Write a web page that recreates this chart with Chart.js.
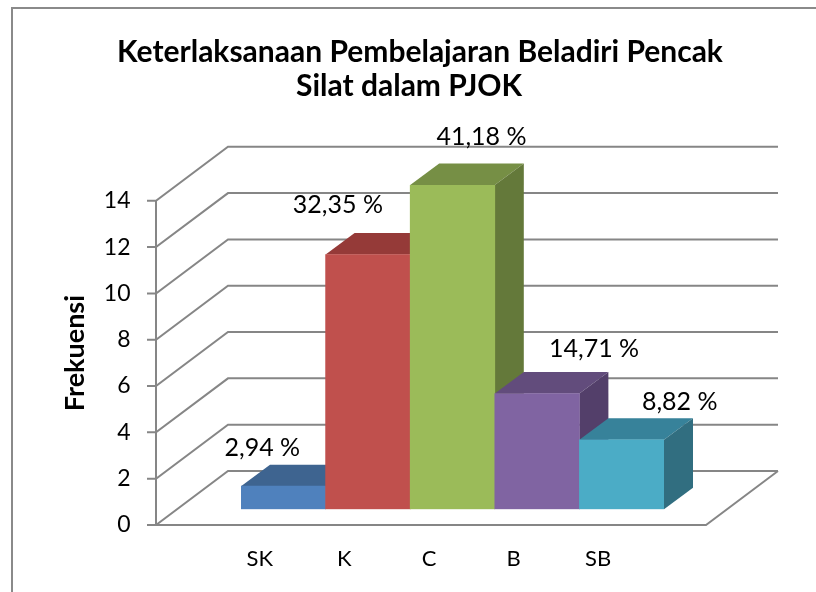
<!DOCTYPE html>
<html>
<head>
<meta charset="utf-8">
<title>Keterlaksanaan Pembelajaran Beladiri Pencak Silat dalam PJOK</title>
<script src="https://cdn.jsdelivr.net/npm/chart.js@4"></script>
<style>
  html, body { margin: 0; padding: 0; background: #fff; }
  canvas { display: block; }
</style>
</head>
<body>
<canvas id="chart" width="816" height="592"></canvas>
<script>
const categories = ['SK', 'K', 'C', 'B', 'SB'];
const frequencies = [1, 11, 14, 5, 3];
const percentLabels = ['2,94 %', '32,35 %', '41,18 %', '14,71 %', '8,82 %'];
const yTicks = [0, 2, 4, 6, 8, 10, 12, 14];

const frontColors = ['#4f81bd', '#c0504d', '#9bbb59', '#8064a2', '#4bacc6'];
const topColors = ['#3e6490', '#953a38', '#768f45', '#624c7c', '#37829a'];
const sideColors = ['#34547a', '#7e312f', '#64793a', '#533f6a', '#316e80'];

const FONT = 'Lato, "Open Sans", sans-serif';
const GRID = '#868686';

// 3D look: wall depth, bar depth, and where the bars sit on the floor
const wallDx = 72, wallDy = -54, floorWidth = 550;
const barDx = 23.5, barDy = -15.7;
const depthX = 29, depthY = -21.5;
const labelOffsets = [[-21, -38], [-30, -50], [29, -48], [57, -45], [58, -38]];

const box3d = {
  id: 'box3d',
  beforeDatasetsDraw(chart) {
    const { ctx, scales: { y } } = chart;
    const x0 = 156;
    ctx.save();
    // frame
    ctx.strokeStyle = '#8a8a8a';
    ctx.lineWidth = 2;
    ctx.beginPath();
    ctx.moveTo(12, 592);
    ctx.lineTo(12, 8);
    ctx.lineTo(816, 8);
    ctx.stroke();
    // walls
    ctx.strokeStyle = GRID;
    ctx.beginPath();
    yTicks.forEach(t => {
      const py = y.getPixelForValue(t);
      ctx.moveTo(x0 - 9, py);
      ctx.lineTo(x0, py);
      ctx.lineTo(x0 + wallDx, py + wallDy);
      ctx.lineTo(x0 + wallDx + floorWidth, py + wallDy);
    });
    const p0 = y.getPixelForValue(0);
    ctx.moveTo(x0, y.getPixelForValue(14));
    ctx.lineTo(x0, p0);
    ctx.lineTo(x0 + floorWidth, p0);
    ctx.lineTo(x0 + floorWidth + wallDx, p0 + wallDy);
    ctx.stroke();
    ctx.restore();

    // top and side faces, left to right
    ctx.save();
    ctx.translate(barDx, barDy);
    chart.getDatasetMeta(0).data.forEach((bar, i) => {
      const l = bar.x - bar.width / 2, r = bar.x + bar.width / 2;
      ctx.fillStyle = topColors[i];
      ctx.beginPath();
      ctx.moveTo(l, bar.y);
      ctx.lineTo(l + depthX, bar.y + depthY);
      ctx.lineTo(r + depthX, bar.y + depthY);
      ctx.lineTo(r, bar.y);
      ctx.fill();
      ctx.fillStyle = sideColors[i];
      ctx.beginPath();
      ctx.moveTo(r, bar.y);
      ctx.lineTo(r + depthX, bar.y + depthY);
      ctx.lineTo(r + depthX, bar.base + depthY);
      ctx.lineTo(r, bar.base);
      ctx.fill();
    });
    // leave translated for the fronts, restored in afterDatasetsDraw
  },
  afterDatasetsDraw(chart) {
    const { ctx } = chart;
    ctx.restore();
    ctx.save();
    ctx.fillStyle = '#000';
    ctx.font = '25px ' + FONT;
    ctx.textAlign = 'center';
    ctx.textBaseline = 'middle';
    chart.getDatasetMeta(0).data.forEach((bar, i) => {
      ctx.fillText(percentLabels[i], bar.x + barDx + labelOffsets[i][0], bar.y + barDy + labelOffsets[i][1]);
    });
    ctx.restore();
  }
};

new Chart(document.getElementById('chart'), {
  type: 'bar',
  data: {
    labels: categories,
    datasets: [{
      label: 'Frekuensi',
      data: frequencies,
      backgroundColor: frontColors,
      borderWidth: 0,
      barPercentage: 1,
      categoryPercentage: 1,
    }],
  },
  options: {
    responsive: false,
    animation: false,
    layout: { padding: { left: 24, right: 0, top: 0, bottom: 0 } },
    plugins: {
      legend: { display: false },
      tooltip: { enabled: false },
      title: {
        display: true,
        text: ['Keterlaksanaan Pembelajaran Beladiri Pencak', 'Silat dalam PJOK   '],
        color: '#000',
        font: { family: FONT, size: 30, weight: 'bold', lineHeight: 1.13 },
        padding: { top: 35, bottom: 98 },
      },
    },
    scales: {
      x: {
        grid: { display: false },
        border: { display: false },
        ticks: { color: '#000', font: { family: FONT, size: 22 }, padding: 13, maxRotation: 0, autoSkip: false },
        afterFit(s) { s.height = 67; },
      },
      y: {
        min: 0,
        max: 14,
        grid: { display: false },
        border: { display: false },
        ticks: { color: '#000', stepSize: 2, font: { family: FONT, size: 23 }, padding: 79 },
        title: {
          display: true,
          text: '   Frekuensi',
          color: '#000',
          font: { family: FONT, size: 27, weight: 'bold', lineHeight: 1.2 },
          padding: { top: 35, bottom: 0 },
        },
        // the big tick padding would otherwise eat into the plot height
        afterFit(s) { s.width = 193.5; s.paddingTop = 0; s.paddingBottom = 0; },
      },
      pad: {
        position: 'right',
        grid: { display: false },
        border: { display: false },
        ticks: { display: false },
        afterFit(s) { s.width = 175.5; },
      },
    },
  },
  plugins: [box3d],
});
</script>
</body>
</html>
